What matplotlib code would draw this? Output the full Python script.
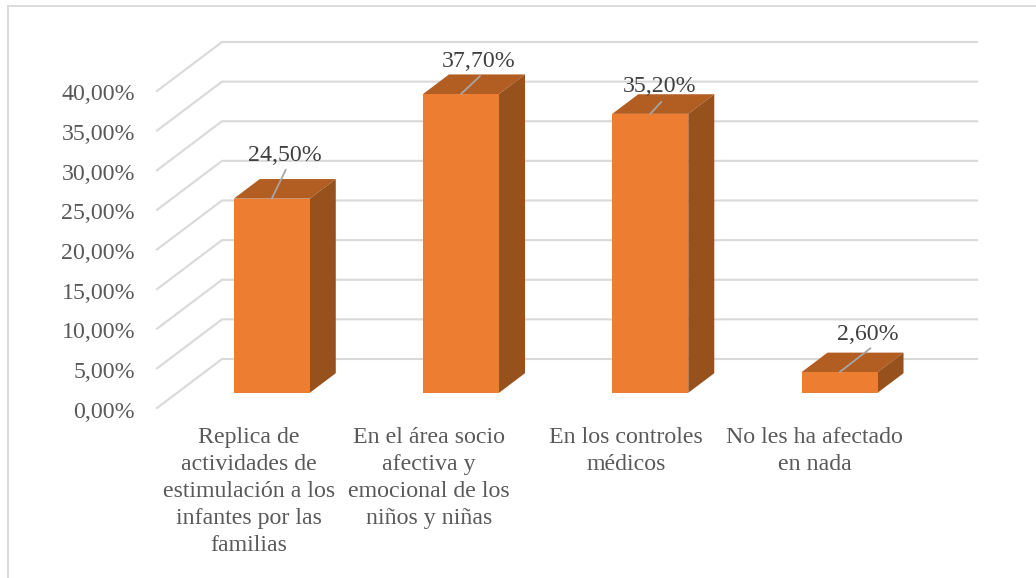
import matplotlib
matplotlib.use("Agg")
import matplotlib.pyplot as plt
from matplotlib.patches import Polygon

categorias = ["Replica de\nactividades de\nestimulación a los\ninfantes por las\nfamilias",
              "En el área socio\nafectiva y\nemocional de los\nniños y niñas",
              "En los controles\nmédicos",
              "No les ha afectado\nen nada"]
valores = [24.5, 37.7, 35.2, 2.6]
etiquetas = ["24,50%", "37,70%", "35,20%", "2,60%"]
ticks = [0, 5, 10, 15, 20, 25, 30, 35, 40]
tick_labels = ["0,00%", "5,00%", "10,00%", "15,00%", "20,00%", "25,00%", "30,00%", "35,00%", "40,00%"]

W, H = 1036, 578
PX = 0.72  # points per pixel at dpi 100
plt.rcParams['font.family'] = ['Liberation Serif', 'DejaVu Serif']

fig = plt.figure(figsize=(W / 100, H / 100), dpi=100)
# front plane of the floor, in pixels
left, right, top, bottom = 157, 914, 91, 408
ax = fig.add_axes([left / W, 1 - bottom / H, (right - left) / W, (bottom - top) / H])
ax.set_xlim(0, 4)
ax.set_ylim(0, 40)
ax.axis('off')

# depth of the 3d box, in data units
DX = 65 / 189.25
DY = 49 / 7.925


def pt(x, y, d):
    return (x + d * DX, y + d * DY)


# gridlines: diagonal wall + back wall
for t in ticks:
    xs, ys = zip(pt(0, t, 0), pt(0, t, 1), pt(3.99, t, 1))
    ax.plot(xs, ys, color='#d9d9d9', lw=1.5, clip_on=False, zorder=1, solid_joinstyle='miter')

bar_w = 76 / 189.25
d0, d1 = 0.31, 0.71
for i, v in enumerate(valores):
    x0 = i + 0.5 - bar_w / 2
    x1 = x0 + bar_w
    base = 0
    ax.add_patch(Polygon([pt(x0, v, d0), pt(x1, v, d0), pt(x1, v, d1), pt(x0, v, d1)],
                         fc='#b25d22', ec='none', clip_on=False, zorder=3))
    ax.add_patch(Polygon([pt(x1, base, d0), pt(x1, base, d1), pt(x1, v, d1), pt(x1, v, d0)],
                         fc='#97511c', ec='none', clip_on=False, zorder=3))
    ax.add_patch(Polygon([pt(x0, base, d0), pt(x1, base, d0), pt(x1, v, d0), pt(x0, v, d0)],
                         fc='#ed7d31', ec='none', clip_on=False, zorder=4))

# data labels with leader lines (pixel offsets from the bar's front top edge)
leader = [(14, 29), (19, 18), (11, 12), (31, 24)]
label_off = [(13, 43), (18, 33), (9, 27), (28, 38)]
for i, v in enumerate(valores):
    x, y = pt(i + 0.5, v, d0)
    ax.annotate("", xy=(x, y), xytext=(leader[i][0] * PX, leader[i][1] * PX),
                textcoords='offset points', zorder=5, annotation_clip=False,
                arrowprops=dict(arrowstyle='-', color='#a6a6a6', lw=1.3, shrinkA=0, shrinkB=0))
    ax.annotate(etiquetas[i], xy=(x, y), xytext=(label_off[i][0] * PX, label_off[i][1] * PX),
                textcoords='offset points', ha='center', va='center', fontsize=17.2,
                color='#404040', zorder=6, annotation_clip=False)

# y tick labels
for t, lab in zip(ticks, tick_labels):
    ax.annotate(lab, xy=(0, t), xytext=(-22 * PX, -4 * PX), textcoords='offset points',
                ha='right', va='center', fontsize=17.2, color='#595959', annotation_clip=False)

# category labels
cat_dx = [-3, -12, -4, -5]
for i, lab in enumerate(categorias):
    ax.annotate(lab, xy=(i + 0.5, 0), xytext=(cat_dx[i] * PX, -19 * PX), textcoords='offset points',
                ha='center', va='top', fontsize=17.2, color='#595959', linespacing=1.38,
                annotation_clip=False)

# chart frame
fig.add_artist(plt.Line2D([8 / W, 8 / W], [0, 1 - 6 / H], color='#d9d9d9', lw=1.3))
fig.add_artist(plt.Line2D([8 / W, 1], [1 - 6 / H, 1 - 6 / H], color='#d9d9d9', lw=1.3))

fig.savefig("out.png", dpi=100)
